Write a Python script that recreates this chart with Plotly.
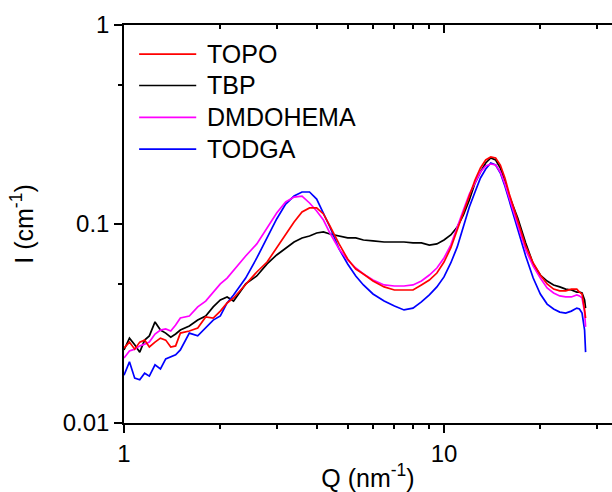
import plotly.graph_objects as go

# Scattering vector Q (nm^-1)
Q = [1.00, 1.04, 1.08, 1.12, 1.16, 1.20, 1.25, 1.30, 1.35, 1.40, 1.45, 1.50,
     1.6, 1.7, 1.8, 1.9, 2.0, 2.1, 2.2, 2.4, 2.6, 2.8,
     3.0, 3.2, 3.4, 3.6, 3.8, 4.0, 4.2, 4.4, 4.7, 5.0,
     5.3, 5.6, 6.0, 6.5, 7.0, 7.5, 8.0, 8.5, 9.0, 9.5,
     10, 10.5, 11, 11.5, 12, 12.5, 13, 13.5, 14, 14.5,
     15, 15.5, 16, 17, 18, 19, 20, 21, 22, 23,
     24, 25, 26, 26.5, 27, 27.5, 27.7]

TOPO = [0.0238, 0.0255, 0.0235, 0.0255, 0.0261, 0.0241, 0.0255, 0.0267, 0.0261, 0.0241, 0.0244, 0.0283,
        0.0290, 0.0300, 0.0341, 0.0337, 0.0365, 0.0401, 0.0425, 0.0494, 0.0574, 0.0644,
        0.0758, 0.0881, 0.1023, 0.1149, 0.1204, 0.1204, 0.1123, 0.0977, 0.0794, 0.0667,
        0.0594, 0.0561, 0.0517, 0.0483, 0.0466, 0.0466, 0.0466, 0.0494, 0.0523, 0.0567,
        0.0644, 0.0758, 0.0933, 0.1136, 0.1398, 0.1664, 0.1912, 0.2097, 0.2171, 0.2146,
        0.1979, 0.1703, 0.1415, 0.1035, 0.0775, 0.0637, 0.0554, 0.0500, 0.0471, 0.0461,
        0.0461, 0.0471, 0.0471, 0.0455, 0.0445, 0.0370, 0.0337]

TBP = [0.0233, 0.0267, 0.0247, 0.0227, 0.0261, 0.0274, 0.0322, 0.0293, 0.0283, 0.0270, 0.0280, 0.0293,
       0.0307, 0.0329, 0.0345, 0.0383, 0.0415, 0.0430, 0.0410, 0.0500, 0.0548, 0.0630,
       0.0699, 0.0758, 0.0812, 0.0851, 0.0870, 0.0901, 0.0912, 0.0891, 0.0870, 0.0851,
       0.0851, 0.0831, 0.0822, 0.0812, 0.0812, 0.0812, 0.0803, 0.0803, 0.0784, 0.0794,
       0.0831, 0.0881, 0.0966, 0.1110, 0.1320, 0.1607, 0.1825, 0.2026, 0.2146, 0.2097,
       0.1912, 0.1626, 0.1382, 0.1072, 0.0803, 0.0630, 0.0554, 0.0517, 0.0494, 0.0483,
       0.0471, 0.0466, 0.0455, 0.0455, 0.0450, 0.0415, 0.0378]

DMDOHEMA = [0.0212, 0.0230, 0.0235, 0.0244, 0.0249, 0.0255, 0.0280, 0.0293, 0.0297, 0.0290, 0.0311, 0.0337,
            0.0345, 0.0383, 0.0410, 0.0455, 0.0500, 0.0535, 0.0587, 0.0691, 0.0794, 0.0955,
            0.1136, 0.1290, 0.1366, 0.1382, 0.1275, 0.1162, 0.1047, 0.0901, 0.0749, 0.0659,
            0.0601, 0.0561, 0.0523, 0.0494, 0.0488, 0.0488, 0.0494, 0.0517, 0.0554, 0.0601,
            0.0675, 0.0784, 0.0955, 0.1176, 0.1415, 0.1626, 0.1825, 0.1956, 0.2002, 0.1979,
            0.1825, 0.1589, 0.1350, 0.0989, 0.0740, 0.0615, 0.0535, 0.0477, 0.0450, 0.0435,
            0.0430, 0.0430, 0.0440, 0.0435, 0.0425, 0.0361, 0.0304]

TODGA = [0.0174, 0.0203, 0.0168, 0.0165, 0.0178, 0.0172, 0.0196, 0.0187, 0.0210, 0.0215, 0.0220, 0.0233,
         0.0283, 0.0274, 0.0300, 0.0329, 0.0345, 0.0401, 0.0440, 0.0535, 0.0675, 0.0851,
         0.1060, 0.1260, 0.1382, 0.1448, 0.1448, 0.1335, 0.1136, 0.0966, 0.0749, 0.0630,
         0.0548, 0.0494, 0.0445, 0.0410, 0.0387, 0.0370, 0.0378, 0.0406, 0.0440, 0.0483,
         0.0542, 0.0637, 0.0767, 0.0966, 0.1218, 0.1448, 0.1703, 0.1890, 0.2026, 0.1979,
         0.1804, 0.1552, 0.1305, 0.0944, 0.0691, 0.0535, 0.0445, 0.0396, 0.0374, 0.0361,
         0.0357, 0.0365, 0.0378, 0.0374, 0.0357, 0.0293, 0.0227]

x_major = [1, 10]
x_major_text = ["1", "10"]
x_minor = [2, 3, 4, 5, 6, 7, 8, 9, 20, 30]
y_major = [0.01, 0.1, 1]
y_major_text = ["0.01", "0.1", "1"]
y_minor = [0.05, 0.5]

legend_order = ["TOPO", "TBP", "DMDOHEMA", "TODGA"]

FONT = "Liberation Sans, Arial, sans-serif"

series = {
    "TBP": (TBP, "#000000"),
    "TODGA": (TODGA, "#0000ff"),
    "DMDOHEMA": (DMDOHEMA, "#ff00ff"),
    "TOPO": (TOPO, "#ff0000"),
}

fig = go.Figure()
for name, (vals, color) in series.items():
    fig.add_trace(go.Scatter(x=Q, y=vals, mode="lines", name=name,
                             line=dict(color=color, width=1.7),
                             showlegend=False))

# empty trace to host the mirrored top axis
fig.add_trace(go.Scatter(x=[], y=[], xaxis="x2", yaxis="y", showlegend=False,
                         hoverinfo="skip"))

# legend drawn in paper coordinates (sample line + label)
row_y = [0.927, 0.848, 0.768, 0.688]
for name, yy in zip(legend_order, row_y):
    color = series[name][1]
    fig.add_shape(type="line", xref="paper", yref="paper",
                  x0=0.031, x1=0.148, y0=yy, y1=yy,
                  line=dict(color=color, width=1.7))
    fig.add_annotation(text=name, xref="paper", yref="paper", x=0.166, y=yy,
                       xanchor="left", yanchor="middle", showarrow=False,
                       font=dict(size=25, family=FONT, color="black"))

axis_common = dict(showgrid=False, zeroline=False, showline=True,
                   linecolor="black", linewidth=1.5, tickcolor="black",
                   tickwidth=1.5)

fig.update_layout(
    width=612, height=492, autosize=False,
    margin=dict(l=124, r=0, t=25, b=69),
    plot_bgcolor="white", paper_bgcolor="white",
    font=dict(family=FONT, color="black", size=24),
    showlegend=False,
    xaxis=dict(type="log", range=[0, 1.525], tickvals=x_major, ticktext=x_major_text,
               ticks="outside", ticklen=8,
               minor=dict(tickvals=x_minor, ticks="outside", ticklen=4,
                          tickcolor="black", tickwidth=1.5, showgrid=False),
               tickfont=dict(size=24),
               title=dict(text="Q (nm<sup>-1</sup>)", font=dict(size=25), standoff=6),
               **axis_common),
    xaxis2=dict(type="log", range=[0, 1.525], overlaying="x", side="top", anchor="y",
                tickvals=x_major, ticks="inside", ticklen=8, showticklabels=False,
                minor=dict(tickvals=x_minor, ticks="inside", ticklen=4,
                           tickcolor="black", tickwidth=1.5, showgrid=False),
                **axis_common),
    yaxis=dict(type="log", range=[-2, 0], tickvals=y_major, ticktext=y_major_text,
               ticks="outside", ticklen=8,
               minor=dict(tickvals=y_minor, ticks="outside", ticklen=4,
                          tickcolor="black", tickwidth=1.5, showgrid=False),
               tickfont=dict(size=24),
               title=dict(text="I (cm<sup>-1</sup>)", font=dict(size=25), standoff=22),
               **axis_common),
)

fig.write_html("out.html")
